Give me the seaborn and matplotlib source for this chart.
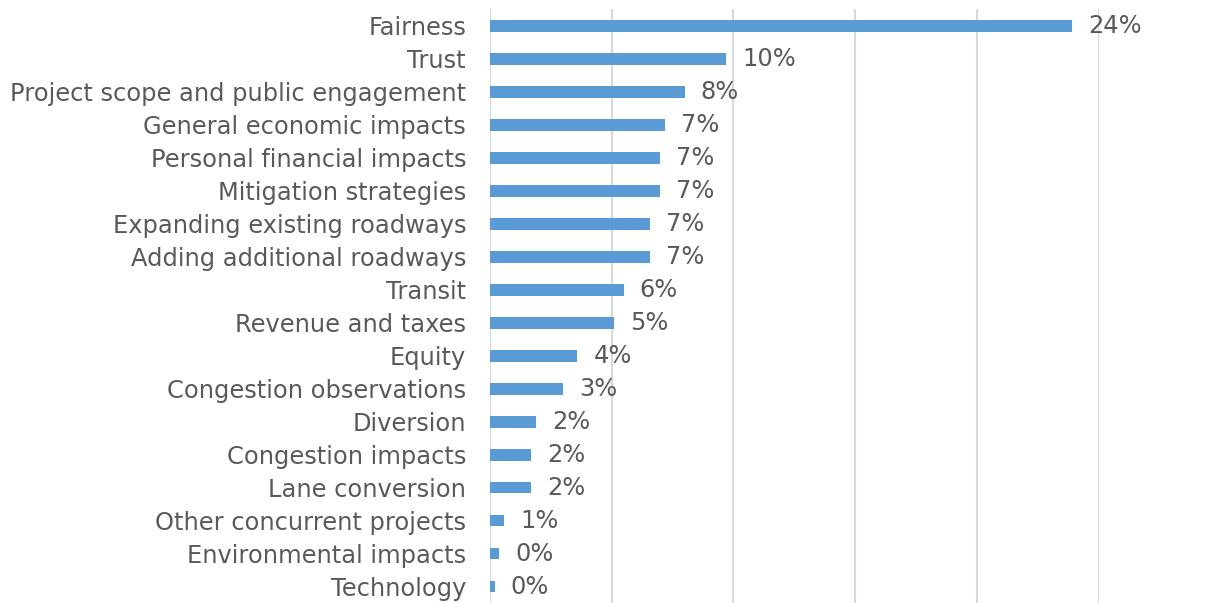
import matplotlib
matplotlib.use("Agg")
import matplotlib.pyplot as plt
import seaborn as sns
import pandas as pd

categories = [
    "Fairness", "Trust", "Project scope and public engagement",
    "General economic impacts", "Personal financial impacts",
    "Mitigation strategies", "Expanding existing roadways",
    "Adding additional roadways", "Transit", "Revenue and taxes",
    "Equity", "Congestion observations", "Diversion",
    "Congestion impacts", "Lane conversion", "Other concurrent projects",
    "Environmental impacts", "Technology",
]
values = [23.9, 9.7, 8.0, 7.2, 7.0, 7.0, 6.6, 6.6, 5.5, 5.1,
          3.6, 3.0, 1.9, 1.7, 1.7, 0.6, 0.4, 0.2]
labels = ["24%", "10%", "8%", "7%", "7%", "7%", "7%", "7%", "6%", "5%",
          "4%", "3%", "2%", "2%", "2%", "1%", "0%", "0%"]

df = pd.DataFrame({"category": categories, "value": values})

sns.set_theme(style="white")
plt.rcParams["font.family"] = ["DejaVu Sans"]

text_color = "#595959"
fig = plt.figure(figsize=(12.13, 6.03), dpi=100)
ax = fig.add_axes([489.7 / 1213, 0.0, (1098.7 - 489.7) / 1213, 1 - 9.3 / 603])

sns.barplot(data=df, x="value", y="category", orient="h", color="#5B9BD5",
            saturation=1, width=0.36, linewidth=0, ax=ax)

ax.set_xlim(0, 25)
ax.set_ylim(17.5, -0.5)
ax.set_xticks([0, 5, 10, 15, 20, 25])
ax.xaxis.grid(True, color="#D9D9D9", linewidth=1.5)
ax.set_axisbelow(True)
ax.tick_params(axis="x", bottom=False, labelbottom=False)
ax.tick_params(axis="y", left=False, labelsize=17.4, labelcolor=text_color, pad=11)
ax.set_xlabel("")
ax.set_ylabel("")
for s in ax.spines.values():
    s.set_visible(False)

for i, (v, lab) in enumerate(zip(values, labels)):
    ax.annotate(lab, xy=(v, i), xytext=(16, 0), textcoords="offset pixels",
                va="center", ha="left", fontsize=17.4, color=text_color,
                annotation_clip=False)

fig.savefig("out.png", dpi=100)
